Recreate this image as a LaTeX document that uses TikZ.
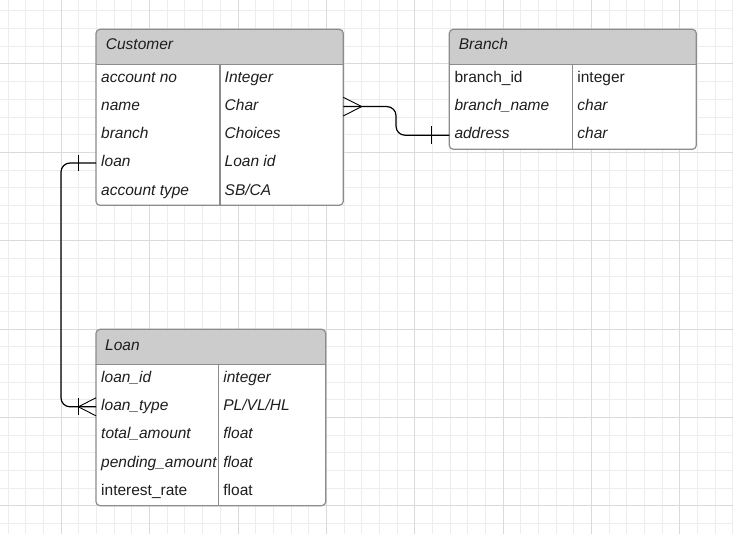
\documentclass[tikz,border=0pt]{standalone}
\usepackage{fontspec}
\setmainfont{Liberation Sans}
\definecolor{gridminor}{HTML}{EDEDED}
\definecolor{gridmajor}{HTML}{DADADA}
\definecolor{tblline}{HTML}{8C8C8C}
\definecolor{hdrfill}{HTML}{CCCCCC}
\definecolor{txt}{HTML}{1E1E1E}

\begin{document}
\begin{tikzpicture}[x=1pt,y=-1pt,
  field/.style={anchor=base west,inner sep=0pt,text=txt,font=\fontsize{15.5}{18}\selectfont\itshape},
  upright/.style={field,font=\fontsize{15.5}{18}\selectfont},
  tbl/.style={draw=tblline,line width=1.2pt,rounded corners=4pt},
  seprule/.style={draw=tblline,line width=1.2pt},
  link/.style={draw=black,line width=1.2pt,rounded corners=9pt},
  foot/.style={draw=black,line width=0.9pt}]
\useasboundingbox (0,0) rectangle (733,534);

% grid paper
\begin{scope}[shift={(61.3,64)}]
\draw[gridminor,line width=1pt,step=17.67pt] (-61.3,-64) grid (671.7,470);
\draw[gridmajor,line width=1pt,step=88.35pt] (-61.3,-64) grid (671.7,470);
\end{scope}

% Customer
\coordinate (cusNW) at (96,29.3);
\coordinate (cusSE) at (343.3,205.3);
\fill[white,rounded corners=4pt] (cusNW) rectangle (cusSE);
\begin{scope}
\clip[rounded corners=4pt] (cusNW) rectangle (cusSE);
\fill[hdrfill] (cusNW) rectangle (343.3,64.3);
\end{scope}
\draw[seprule] (96,64.3) -- (343.3,64.3) (220,64.3) -- (220,205.3);
\draw[tbl] (cusNW) rectangle (cusSE);
\node[field] (cusT) at (105.7,50) {Customer};
\node[field] (cusK1) at (101,82.3) {account no};
\node[field] (cusV1) at (224.5,82.3) {Integer};
\node[field] (cusK2) at (101,110.5) {name};
\node[field] (cusV2) at (224.5,110.5) {Char};
\node[field] (cusK3) at (101,138.7) {branch};
\node[field] (cusV3) at (224.5,138.7) {Choices};
\node[field] (cusK4) at (101,166.9) {loan};
\node[field] (cusV4) at (224.5,166.9) {Loan id};
\node[field] (cusK5) at (101,195.1) {account type};
\node[field] (cusV5) at (224.5,195.1) {SB/CA};

% Branch
\coordinate (brNW) at (449.3,29.3);
\coordinate (brSE) at (696.3,149.3);
\fill[white,rounded corners=4pt] (brNW) rectangle (brSE);
\begin{scope}
\clip[rounded corners=4pt] (brNW) rectangle (brSE);
\fill[hdrfill] (brNW) rectangle (696.3,64.3);
\end{scope}
\draw[seprule] (449.3,64.3) -- (696.3,64.3) (572.7,64.3) -- (572.7,149.3);
\draw[tbl] (brNW) rectangle (brSE);
\node[field] (brT) at (458.7,50) {Branch};
\node[upright] (brK1) at (454.3,82.3) {branch\_id};
\node[upright] (brV1) at (577.2,82.3) {integer};
\node[field] (brK2) at (454.3,110.6) {branch\_name};
\node[field] (brV2) at (577.2,110.6) {char};
\node[field] (brK3) at (454.3,139) {address};
\node[field] (brV3) at (577.2,139) {char};

% Loan
\coordinate (lnNW) at (96,329.3);
\coordinate (lnSE) at (325.7,505.7);
\fill[white,rounded corners=4pt] (lnNW) rectangle (lnSE);
\begin{scope}
\clip[rounded corners=4pt] (lnNW) rectangle (lnSE);
\fill[hdrfill] (lnNW) rectangle (325.7,364.3);
\end{scope}
\draw[seprule] (96,364.3) -- (325.7,364.3) (218.7,364.3) -- (218.7,505.7);
\draw[tbl] (lnNW) rectangle (lnSE);
\node[field] (lnT) at (105,350) {Loan};
\node[field] (lnK1) at (101,382.3) {loan\_id};
\node[field] (lnV1) at (223.2,382.3) {integer};
\node[field] (lnK2) at (101,410.6) {loan\_type};
\node[field] (lnV2) at (223.2,410.6) {PL/VL/HL};
\node[field] (lnK3) at (101,438.9) {total\_amount};
\node[field] (lnV3) at (223.2,438.9) {float};
\node[field] (lnK4) at (101,467.1) {pending\_amount};
\node[field] (lnV4) at (223.2,467.1) {float};
\node[upright] (lnK5) at (101,495.4) {interest\_rate};
\node[upright] (lnV5) at (223.2,495.4) {float};

% relations
\coordinate (cusName) at (343.3,106.6);
\coordinate (brAddr) at (449.3,135.2);
\draw[link] (cusName) -- (396,106.6) -- (396,135.2) -- (brAddr);
\draw[foot] (cusName) ++(0,-9.3) -- ++(18.4,9.3) -- ++(-18.4,9.3);
\draw[foot] (brAddr) ++(-18.3,-8.7) -- ++(0,17.4);

\coordinate (cusLoan) at (96,163);
\coordinate (lnType) at (96,406.8);
\draw[link] (cusLoan) -- (61,163) -- (61,406.8) -- (lnType);
\draw[foot] (cusLoan) ++(-17.7,-8.4) -- ++(0,16.8);
\draw[foot] (lnType) ++(0,-9) -- ++(-17.7,9) -- ++(17.7,9);
\draw[foot] (lnType) ++(-17.7,-8.5) -- ++(0,17);
\end{tikzpicture}
\end{document}
